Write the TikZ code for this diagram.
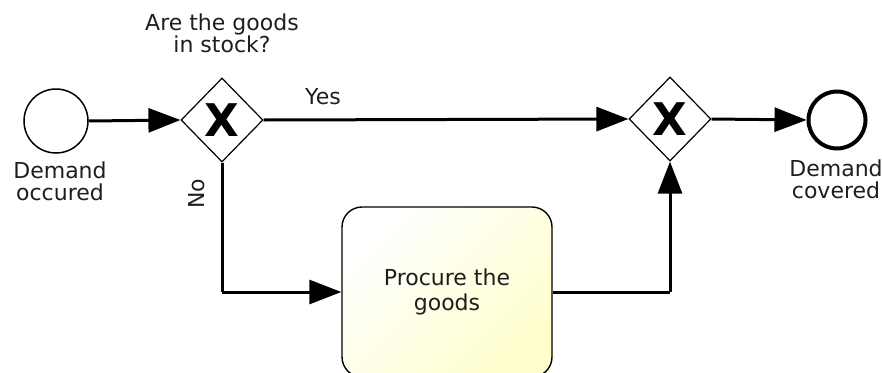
\documentclass[tikz,border=0pt]{standalone}
\usepackage{fontspec}
\setmainfont{DejaVu Sans}
\usetikzlibrary{arrows.meta,shapes.geometric}
\definecolor{inkgray}{RGB}{30,30,30}
\definecolor{taskyellow}{RGB}{255,255,205}
\begin{document}
\begin{tikzpicture}[x=1pt,y=-1pt,
  flow/.style={line width=3pt,-{Triangle[length=32pt,width=24pt]}},
  plainflow/.style={line width=3pt},
  gateway/.style={diamond,draw,line width=1.2pt,fill=white,inner sep=0pt,
    minimum width=82pt,minimum height=84pt,
    font=\fontsize{45}{45}\selectfont\bfseries},
  startevent/.style={circle,draw,line width=1.5pt,fill=white,minimum size=64pt,inner sep=0pt},
  endevent/.style={circle,draw,line width=4pt,fill=white,minimum size=57pt,inner sep=0pt},
  task/.style={rectangle,rounded corners=20pt,draw,line width=1.4pt,
    shading=axis,left color=white,right color=taskyellow,shading angle=45,
    minimum width=210pt,minimum height=170pt,inner sep=0pt,
    align=center,text=inkgray,font=\fontsize{22}{25}\selectfont},
  lbl/.style={align=center,text=inkgray,inner sep=0pt,font=\fontsize{22}{22}\selectfont}]
  \useasboundingbox (0,0) rectangle (882,372);
  \begin{scope}
    \clip (0,0) rectangle (882,372);

    % events, gateways and the task
    \node[startevent] (start) at (56,121) {};
    \node[gateway] (gw1) at (222,120) {X};
    \node[gateway] (gw2) at (670,119) {X};
    \node[endevent] (end) at (837,120) {};
    \node[task] (proc) at (447,292) {Procure the\\goods};

    % routing corners
    \coordinate (nobend) at (gw1.south |- proc.west);
    \coordinate (backbend) at (gw2.south |- proc.east);

    % sequence flows
    \draw[flow] (start.east) -- (gw1.west);
    \draw[flow] (gw1.east) -- (gw2.west);
    \draw[flow] (gw2.east) -- (end.west);
    \draw[plainflow] (gw1.south) -- (nobend);
    \draw[flow] (nobend) -- (proc.west);
    \draw[plainflow] (proc.east) -- (backbend);
    \draw[flow] (backbend) -- (gw2.south);

    % labels
    \node[lbl] (q) at (222,33) {Are the goods\\in stock?};
    \node[lbl] (yes) at (323,97) {Yes};
    \node[lbl,rotate=90] (no) at (197,194) {No};
    \node[lbl] (startlbl) at (60,181) {Demand\\occured};
    \node[lbl] (endlbl) at (836,179) {Demand\\covered};
  \end{scope}
\end{tikzpicture}
\end{document}
